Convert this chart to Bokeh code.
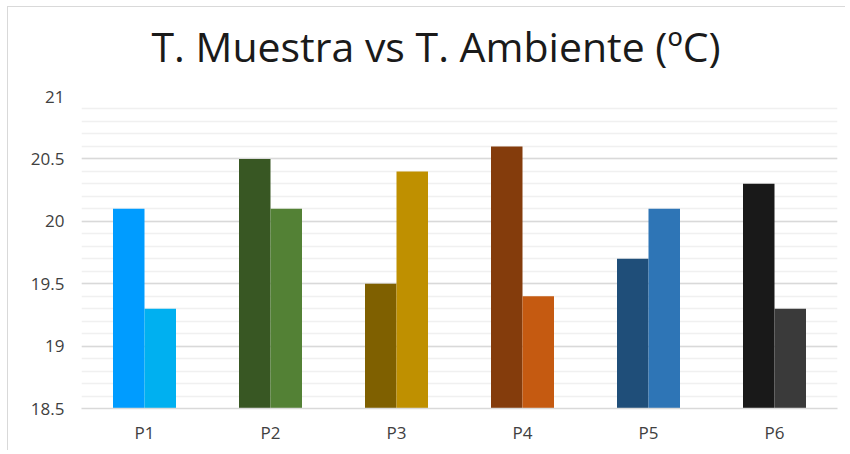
from bokeh.plotting import figure
from bokeh.models import ColumnDataSource, FactorRange, Range1d, SingleIntervalTicker, Title
from bokeh.transform import dodge
from bokeh.embed import file_html
from bokeh.resources import INLINE

title_text = "T. Muestra vs T. Ambiente (ºC)"
categories = ["P1", "P2", "P3", "P4", "P5", "P6"]
t_muestra = [20.1, 20.5, 19.5, 20.6, 19.7, 20.3]
t_ambiente = [19.3, 20.1, 20.4, 19.4, 20.1, 19.3]
colors_muestra = ["#009CFF", "#385723", "#7F6000", "#843C0C", "#1F4E79", "#191919"]
colors_ambiente = ["#00B0F0", "#538135", "#BF9000", "#C55A11", "#2E75B6", "#3A3A3A"]
y_min, y_max = 18.5, 21.0

src = ColumnDataSource(dict(cat=categories, m=t_muestra, a=t_ambiente,
                            cm=colors_muestra, ca=colors_ambiente))

p = figure(width=838, height=444, x_range=FactorRange(*categories, range_padding=0),
           y_range=Range1d(y_min, y_max), output_backend="svg", toolbar_location=None,
           min_border_left=73, min_border_right=9, min_border_top=89, min_border_bottom=43)
p.styles = {"border-top": "1px solid #d9d9d9", "border-left": "1px solid #d9d9d9"}
p.margin = (6, 0, 0, 7)

p.vbar(x=dodge("cat", -0.125, range=p.x_range), top="m", bottom=y_min, width=0.25,
       source=src, fill_color="cm", line_color=None)
p.vbar(x=dodge("cat", 0.125, range=p.x_range), top="a", bottom=y_min, width=0.25,
       source=src, fill_color="ca", line_color=None)

# spacer between the plot frame and the title, then the title itself
p.add_layout(Title(text=" ", text_font_size="1px", standoff=20), "above")
p.add_layout(Title(text=title_text, text_font="Open Sans", text_font_size="41px",
                   text_font_style="normal", text_color="#1a1a1a",
                   align="left", offset=70, standoff=0), "above")

p.outline_line_color = None
p.background_fill_color = "white"
p.border_fill_color = "white"

p.yaxis.ticker = SingleIntervalTicker(interval=0.5, num_minor_ticks=5)
p.ygrid.grid_line_color = "#d9d9d9"
p.ygrid.grid_line_width = 1.5
p.ygrid.minor_grid_line_color = "#f0f0f0"
p.ygrid.minor_grid_line_width = 1.5
p.xgrid.grid_line_color = None

for ax in (p.xaxis, p.yaxis):
    ax.axis_line_color = None
    ax.major_tick_line_color = None
    ax.minor_tick_line_color = None
    ax.major_tick_out = 0
    ax.minor_tick_out = 0
    ax.major_label_text_font = "Open Sans"
    ax.major_label_text_font_size = "17px"
    ax.major_label_text_color = "#404040"
p.yaxis.major_label_standoff = 17
p.xaxis.major_label_standoff = 12
p.xaxis.axis_line_color = "#d9d9d9"
p.xaxis.axis_line_width = 1.5

open("out.html", "w").write(file_html(p, INLINE))
